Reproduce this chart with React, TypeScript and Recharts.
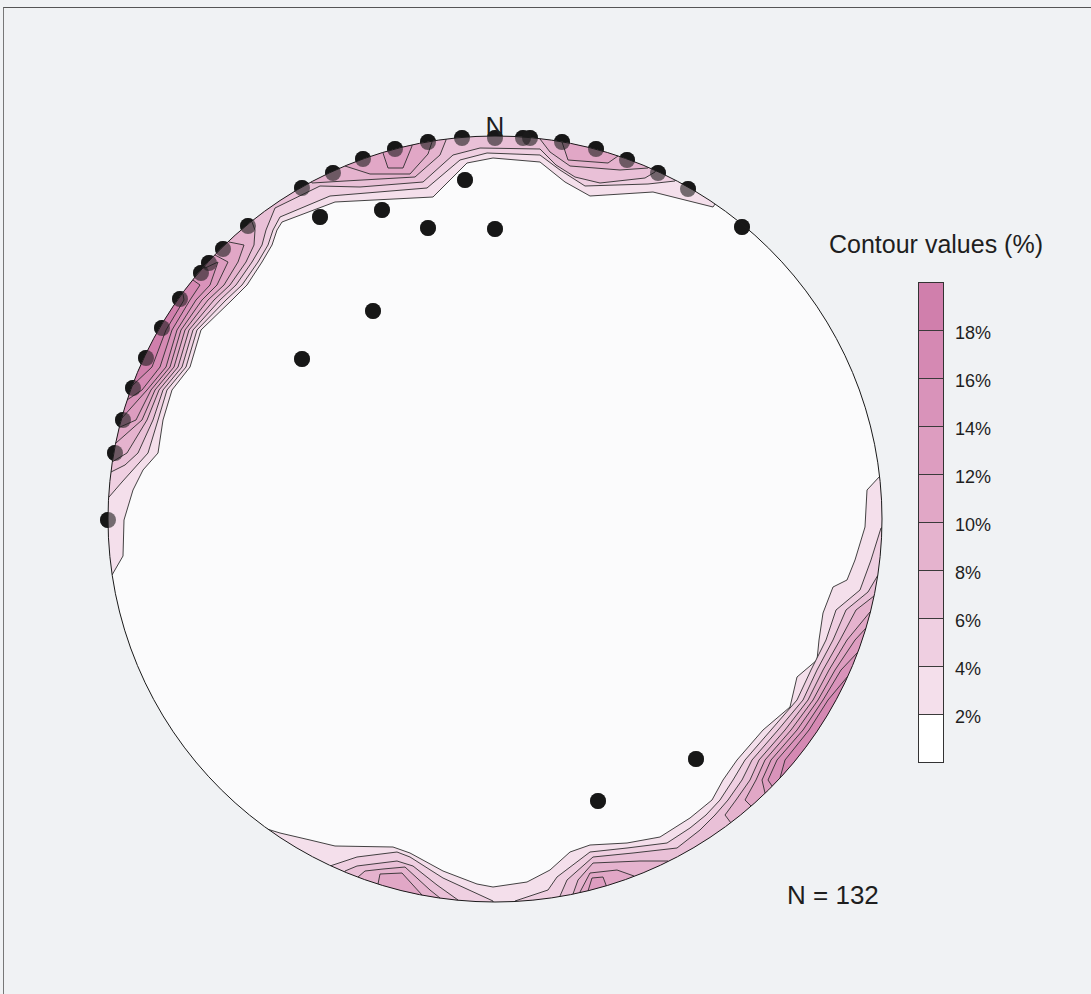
import { ScatterChart, Scatter, XAxis, YAxis } from 'recharts';

type Pt = [number, number];

const poles: Pt[] = [
  [-193, 331], [-162, 346], [-132, 360], [-100, 370], [-67, 377], [-33, 381], [0, 381],
  [28, 381], [35, 381], [67, 377], [101, 370], [132, 359], [163, 346], [193, 330], [247, 292],
  [-30, 339], [-113, 309], [-175, 302], [-67, 291], [0, 290], [-122, 208], [-193, 160],
  [-247, 293], [-272, 270], [-286, 256], [-294, 246], [-315, 220], [-333, 191], [-349, 161],
  [-362, 131], [-372, 99], [-380, 66], [-387, -1], [201, -240], [103, -282],
];

// NW - N - NE girdle: each entry is one contour line, rim to rim
const northContours: { level: number; line: Pt[] }[] = [
  { level: 2, line: [[-383, -56], [-372, -37], [-371, -1], [-362, 29], [-352, 49], [-337, 66], [-332, 99], [-323, 129], [-305, 152], [-294, 189], [-263, 219], [-248, 234], [-233, 257], [-223, 274], [-218, 289], [-213, 297], [-160, 317], [-62, 322], [-28, 356], [-2, 361], [45, 357], [70, 337], [95, 323], [158, 327], [218, 312]] },
  { level: 4, line: [[-386, 22], [-373, 37], [-347, 66], [-337, 99], [-328, 129], [-309, 152], [-298, 189], [-269, 219], [-253, 234], [-237, 257], [-227, 274], [-222, 289], [-215, 302], [-165, 323], [-68, 331], [-35, 359], [-8, 366], [45, 364], [65, 349], [90, 333], [153, 335], [180, 338]] },
  { level: 6, line: [[-384, 47], [-370, 54], [-357, 66], [-342, 99], [-332, 129], [-313, 152], [-302, 189], [-275, 219], [-259, 234], [-243, 257], [-233, 274], [-229, 289], [-220, 311], [-175, 333], [-135, 332], [-72, 337], [-42, 364], [-15, 371], [45, 370], [61, 354], [80, 342], [105, 336], [150, 341], [160, 347]] },
  { level: 8, line: [[-383, 57], [-368, 66], [-348, 99], [-336, 129], [-317, 152], [-306, 189], [-281, 219], [-265, 234], [-249, 257], [-241, 274], [-240, 289], [-243, 297]] },
  { level: 10, line: [[-379, 76], [-353, 99], [-340, 129], [-321, 152], [-310, 189], [-287, 219], [-271, 234], [-257, 257], [-251, 274], [-266, 277]] },
  { level: 12, line: [[-375, 92], [-359, 99], [-344, 129], [-325, 152], [-314, 189], [-293, 219], [-278, 234], [-267, 257], [-280, 264]] },
  { level: 14, line: [[-373, 101], [-348, 129], [-329, 152], [-318, 189], [-299, 219], [-285, 234], [-277, 257], [-290, 251]] },
  { level: 16, line: [[-368, 119], [-353, 129], [-335, 152], [-323, 189], [-305, 219], [-295, 234], [-302, 239]] },
  { level: 18, line: [[-362, 134], [-343, 152], [-329, 189], [-311, 219], [-312, 225]] },
  // small maxima along the north rim
  { level: 8, line: [[-183, 336], [-150, 338], [-80, 342], [-55, 364], [-49, 379]] },
  { level: 10, line: [[-150, 353], [-125, 345], [-85, 345], [-67, 365], [-63, 377]] },
  { level: 12, line: [[-112, 366], [-107, 351], [-92, 351], [-83, 373]] },
  { level: 8, line: [[45, 380], [55, 367], [75, 353], [125, 349], [153, 351]] },
  { level: 10, line: [[67, 377], [73, 359], [113, 356], [123, 363]] },
];

// E - SE - S girdle
const southContours: { level: number; line: Pt[] }[] = [
  { level: 2, line: [[385, 43], [372, 29], [370, -8], [360, -41], [352, -61], [338, -68], [328, -94], [324, -121], [322, -141], [302, -158], [295, -188], [268, -211], [242, -241], [228, -261], [217, -281], [195, -299], [165, -318], [132, -324], [95, -326], [75, -333], [55, -351], [32, -363], [-2, -368], [-18, -365], [-52, -352], [-85, -334], [-102, -328], [-160, -327], [-185, -321], [-215, -314], [-228, -310]] },
  { level: 4, line: [[386, -9], [376, -41], [365, -71], [341, -91], [331, -121], [316, -151], [302, -181], [276, -211], [250, -241], [238, -261], [225, -281], [211, -296], [195, -309], [172, -324], [132, -329], [95, -333], [62, -358], [53, -371], [20, -382]] },
  { level: 6, line: [[383, -56], [373, -73], [351, -91], [338, -121], [322, -151], [308, -181], [283, -211], [257, -241], [247, -261], [233, -281], [220, -296], [205, -311], [182, -329], [138, -334], [98, -338], [72, -361], [65, -377]] },
  { level: 8, line: [[379, -77], [361, -91], [345, -121], [328, -151], [313, -181], [290, -211], [264, -241], [255, -261], [241, -281], [230, -296], [236, -304]] },
  { level: 10, line: [[375, -93], [352, -121], [334, -151], [318, -181], [296, -211], [270, -241], [261, -261], [250, -281], [256, -287]] },
  { level: 12, line: [[371, -109], [360, -121], [340, -151], [323, -181], [302, -211], [276, -241], [267, -261], [270, -274]] },
  { level: 14, line: [[363, -133], [346, -151], [328, -181], [308, -211], [282, -241], [273, -261], [277, -267]] },
  { level: 16, line: [[353, -157], [333, -181], [314, -211], [290, -241], [285, -259]] },
  // south rim maxima
  { level: 8, line: [[78, -375], [83, -361], [98, -344], [145, -342], [173, -342]] },
  { level: 10, line: [[85, -373], [95, -354], [122, -351], [139, -357]] },
  { level: 12, line: [[93, -372], [97, -359], [108, -358], [111, -366]] },
  { level: 4, line: [[-165, -347], [-138, -338], [-98, -333], [-85, -338], [-52, -359], [-2, -382]] },
  { level: 6, line: [[-150, -352], [-138, -347], [-98, -342], [-82, -347], [-58, -366], [-37, -381]] },
  { level: 8, line: [[-137, -358], [-130, -352], [-112, -350], [-90, -348], [-65, -371], [-55, -379]] },
  { level: 10, line: [[-117, -365], [-115, -355], [-93, -354], [-73, -376]] },
];

const legendLevels = [18, 16, 14, 12, 10, 8, 6, 4, 2];
const levelColors: Record<number, string> = {
  2: '#f4dfeb', 4: '#efcfe1', 6: '#e9c0d7', 8: '#e5b3ce', 10: '#e1a7c6',
  12: '#dd9dc0', 14: '#d993ba', 16: '#d589b3', 18: '#d07fac',
};
const netRadius = { x: 387, y: 383 };
const sampleSize = 132;

const toRows = (pts: Pt[]) => pts.map(([x, y]) => ({ x, y }));

// contour line + same line pushed outside the net = closed band (clipped to the net when drawn)
const bandRows = (line: Pt[]) =>
  toRows([...line, ...[...line].reverse().map(([x, y]) => [x * 1.3, y * 1.3] as Pt)]);

const bands = [...northContours, ...southContours]
  .sort((a, b) => a.level - b.level)
  .map(c => ({ level: c.level, rows: bandRows(c.line) }));

const poleRows = toRows(poles);
const frameRows = [{ x: 0, y: 0 }, { x: netRadius.x, y: 0 }, { x: 0, y: netRadius.y }];

const noMarker = () => <g />;
const pathOf = (pts: { x: number; y: number }[]) =>
  pts.map((p, i) => `${i ? 'L' : 'M'}${p.x.toFixed(1)},${p.y.toFixed(1)}`).join('') + 'Z';

function NetFill(props: any) {
  const [c, e, n] = props.points;
  return (
    <g>
      <defs>
        <clipPath id="net-clip">
          <ellipse cx={c.x} cy={c.y} rx={e.x - c.x} ry={c.y - n.y} />
        </clipPath>
      </defs>
      <ellipse cx={c.x} cy={c.y} rx={e.x - c.x} ry={c.y - n.y} fill="#fbfbfc" />
    </g>
  );
}

function NetOutline(props: any) {
  const [c, e, n] = props.points;
  return <ellipse cx={c.x} cy={c.y} rx={e.x - c.x} ry={c.y - n.y} fill="none" stroke="#1a1a1a" strokeWidth={1} />;
}

const poleDot = (fill: string, opacity: number) => (p: any) =>
  <circle cx={p.cx} cy={p.cy} r={8} fill={fill} fillOpacity={opacity} />;

const bandLine = (color: string) => (p: any) => (
  <path d={pathOf(p.points)} fill={color} stroke="#2e2e2e" strokeWidth={0.9}
    strokeLinejoin="round" clipPath="url(#net-clip)" />
);

const font = '"Liberation Sans", Arial, sans-serif';

export default function App() {
  return (
    <div style={{ position: 'absolute', left: 0, top: 0, width: 1091, height: 994, background: '#f0f2f4', fontFamily: font, color: '#1e1e1e', overflow: 'hidden' }}>
      <div style={{ position: 'absolute', left: 3, top: 7, width: 1100, height: 1000, borderTop: '1px solid #555', borderLeft: '1px solid #777' }} />

      <ScatterChart width={1091} height={994} margin={{ top: 113, right: 186, bottom: 69, left: 85 }}>
        <XAxis type="number" dataKey="x" domain={[-410, 410]} allowDataOverflow hide />
        <YAxis type="number" dataKey="y" domain={[-406, 406]} allowDataOverflow hide />
        <Scatter data={frameRows} shape={noMarker} line={NetFill} isAnimationActive={false} />
        <Scatter data={poleRows} shape={poleDot('#111', 1)} isAnimationActive={false} />
        {bands.map((b, i) => (
          <Scatter key={i} data={b.rows} shape={noMarker} line={bandLine(levelColors[b.level])} isAnimationActive={false} />
        ))}
        <Scatter data={poleRows} shape={poleDot('#1c1c1c', 0.6)} isAnimationActive={false} />
        <Scatter data={frameRows} shape={noMarker} line={NetOutline} isAnimationActive={false} />
      </ScatterChart>

      <div style={{ position: 'absolute', left: 475, top: 113, width: 40, textAlign: 'center', fontSize: 26, lineHeight: '26px' }}>N</div>

      <div style={{ position: 'absolute', left: 829, top: 232, fontSize: 25, lineHeight: '25px', whiteSpace: 'nowrap' }}>
        Contour values (%)
      </div>

      <div style={{ position: 'absolute', left: 918, top: 282, width: 24, height: 479, border: '1px solid #333', background: '#fff' }}>
        {legendLevels.map(lv => (
          <div key={lv} style={{ height: 47, background: levelColors[lv], borderBottom: '1px solid #3a3a3a' }} />
        ))}
      </div>
      {legendLevels.map((lv, i) => (
        <div key={lv} style={{ position: 'absolute', left: 955, top: 282 + 48 * (i + 1) - 6, fontSize: 18, lineHeight: '18px' }}>
          {lv}%
        </div>
      ))}

      <div style={{ position: 'absolute', left: 787, top: 882, fontSize: 26, lineHeight: '26px', whiteSpace: 'nowrap' }}>
        N = {sampleSize}
      </div>
    </div>
  );
}
